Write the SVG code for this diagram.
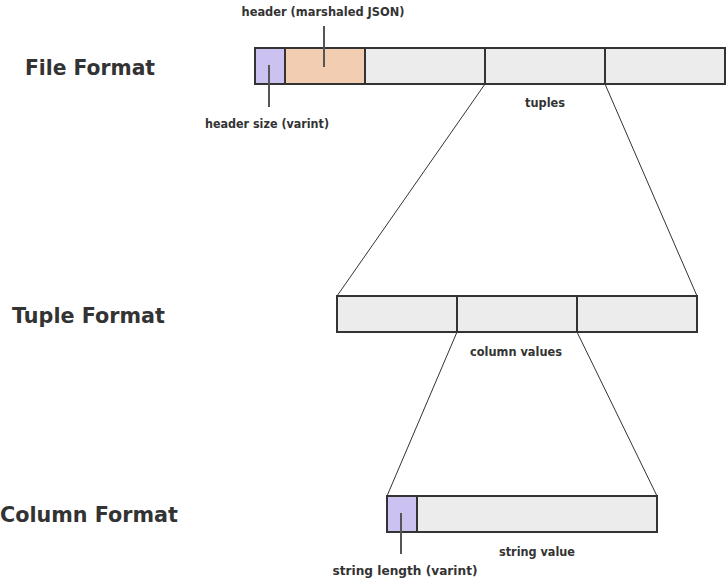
<svg xmlns="http://www.w3.org/2000/svg" width="726" height="580" viewBox="0 0 726 580">
<style>
.title{font-family:"DejaVu Sans","Liberation Sans",sans-serif;font-weight:bold;font-size:22px;fill:#333}
.lbl{font-family:"DejaVu Sans","Liberation Sans",sans-serif;font-weight:bold;font-size:12px;fill:#333;text-anchor:middle}
.cell{fill:#ececec;stroke:#333;stroke-width:2}
.purple{fill:#cbc2f1;stroke:#333;stroke-width:2}
.peach{fill:#f2cdb1;stroke:#333;stroke-width:2}
.tick{stroke:#555;stroke-width:2}
.conn{stroke:#333;stroke-width:1;fill:none}
</style>
<rect width="726" height="580" fill="#fff"/>
<g id="titles">
<text class="title" x="25" y="75" textLength="130" lengthAdjust="spacingAndGlyphs">File Format</text>
<text class="title" x="12" y="323" textLength="153" lengthAdjust="spacingAndGlyphs">Tuple Format</text>
<text class="title" x="0" y="522" textLength="178" lengthAdjust="spacingAndGlyphs">Column Format</text>
</g>
<g id="connectors">
<line class="conn" x1="485" y1="84" x2="337" y2="296"/>
<line class="conn" x1="605" y1="84" x2="697" y2="296"/>
<line class="conn" x1="457" y1="332" x2="387" y2="496"/>
<line class="conn" x1="577" y1="332" x2="657" y2="496"/>
</g>
<g id="file-format">
<rect class="purple" x="255" y="48" width="30" height="36"/>
<rect class="peach" x="285" y="48" width="80" height="36"/>
<rect class="cell" x="365" y="48" width="120" height="36"/>
<rect class="cell" x="485" y="48" width="120" height="36"/>
<rect class="cell" x="605" y="48" width="120" height="36"/>
<line class="tick" x1="324" y1="26" x2="324" y2="67"/>
<line class="tick" x1="269" y1="65" x2="269" y2="107"/>
<text class="lbl" x="323" y="16" textLength="163" lengthAdjust="spacingAndGlyphs">header (marshaled JSON)</text>
<text class="lbl" x="267" y="128" textLength="124" lengthAdjust="spacingAndGlyphs">header size (varint)</text>
<text class="lbl" x="545" y="107" textLength="40" lengthAdjust="spacingAndGlyphs">tuples</text>
</g>
<g id="tuple-format">
<rect class="cell" x="337" y="296" width="120" height="36"/>
<rect class="cell" x="457" y="296" width="120" height="36"/>
<rect class="cell" x="577" y="296" width="120" height="36"/>
<text class="lbl" x="516" y="356" textLength="92" lengthAdjust="spacingAndGlyphs">column values</text>
</g>
<g id="column-format">
<rect class="purple" x="387" y="496" width="30" height="36"/>
<rect class="cell" x="417" y="496" width="240" height="36"/>
<line class="tick" x1="401" y1="513" x2="401" y2="554"/>
<text class="lbl" x="537" y="556" textLength="76" lengthAdjust="spacingAndGlyphs">string value</text>
<text class="lbl" x="405" y="575" textLength="145" lengthAdjust="spacingAndGlyphs">string length (varint)</text>
</g>
</svg>
